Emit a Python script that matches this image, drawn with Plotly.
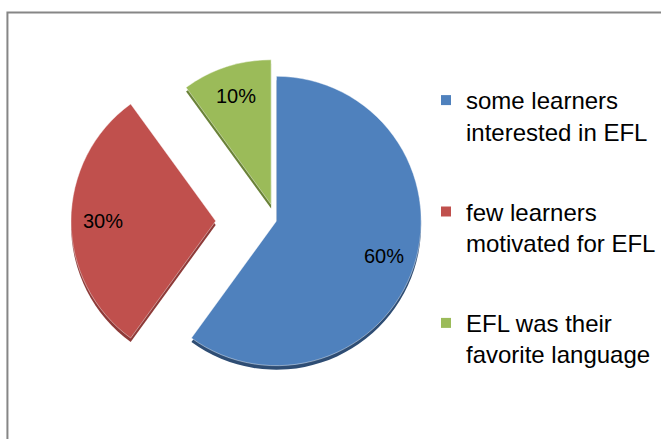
import math
import plotly.graph_objects as go

labels = ["some learners<br>interested in EFL",
          "few learners<br>motivated for EFL",
          "EFL was their<br>favorite language"]
values = [60, 30, 10]
colors = ["#4F81BD", "#C0504D", "#9BBB59"]
side_colors = ["#2E4D74", "#8E3A38", "#6A8238"]
pulls = [0, 0.42, 0.12]

W, H = 661, 439
cx, cy, r = 279, 221, 146
maxpull = max(pulls)
d = r * (2 + 2 * maxpull)


def dom(dy=0):
    return dict(x=[(cx - d / 2) / W, (cx + d / 2) / W],
                y=[1 - (cy + dy + d / 2) / H, 1 - (cy + dy - d / 2) / H])


fig = go.Figure()
# darker "side" copy of the pie, slightly lower, for the 3D rim
fig.add_trace(go.Pie(
    labels=labels, values=values, sort=False, direction="clockwise", rotation=0,
    pull=pulls, marker=dict(colors=side_colors, line=dict(width=0)),
    textinfo="none", hoverinfo="skip", showlegend=False, domain=dom(4),
))
fig.add_trace(go.Pie(
    labels=labels, values=values, sort=False, direction="clockwise", rotation=0,
    pull=pulls, marker=dict(colors=colors, line=dict(color="rgba(255,255,255,0.6)", width=0.7)),
    textinfo="none", hoverinfo="label+percent", showlegend=False, domain=dom(0),
))

# legend entries (one group each so spacing can be set)
for lab, col in zip(labels, colors):
    fig.add_trace(go.Scatter(
        x=[None], y=[None], mode="markers", name=lab, legendgroup=lab,
        marker=dict(symbol="square", size=10, color=col),
        hoverinfo="skip",
    ))

# percentage labels placed near the outer part of each slice
total = sum(values)
annotations = []
start = 0.0
for v, p in zip(values, pulls):
    mid = start + v / total * 360 / 2
    start += v / total * 360
    a = math.radians(mid)
    dist = (p + 0.78) * r
    x = cx + dist * math.sin(a)
    y = cy - dist * math.cos(a)
    annotations.append(dict(
        x=x / W, y=1 - y / H, xref="paper", yref="paper",
        xanchor="center", yanchor="middle",
        text=f"{round(v / total * 100)}%", showarrow=False,
        font=dict(family="Liberation Sans", size=20, color="black"),
    ))

fig.update_layout(
    width=W, height=H, margin=dict(l=0, r=0, t=0, b=0),
    paper_bgcolor="white", plot_bgcolor="white",
    font=dict(family="Liberation Sans", color="black"),
    xaxis=dict(visible=False), yaxis=dict(visible=False),
    legend=dict(x=430 / W, y=1 - 78 / H, xanchor="left", yanchor="top",
                font=dict(family="Liberation Sans", size=24, color="black"),
                valign="top", bgcolor="rgba(0,0,0,0)",
                traceorder="grouped", tracegroupgap=46),
    annotations=annotations,
    shapes=[dict(type="rect", xref="paper", yref="paper",
                 x0=7.5 / W, x1=1.05, y0=-0.05, y1=1 - 12.5 / H,
                 line=dict(color="#868686", width=2), fillcolor="rgba(0,0,0,0)")],
)

fig.write_html("out.html", config={"displayModeBar": False},
               post_script="document.body.style.margin='0px';")
